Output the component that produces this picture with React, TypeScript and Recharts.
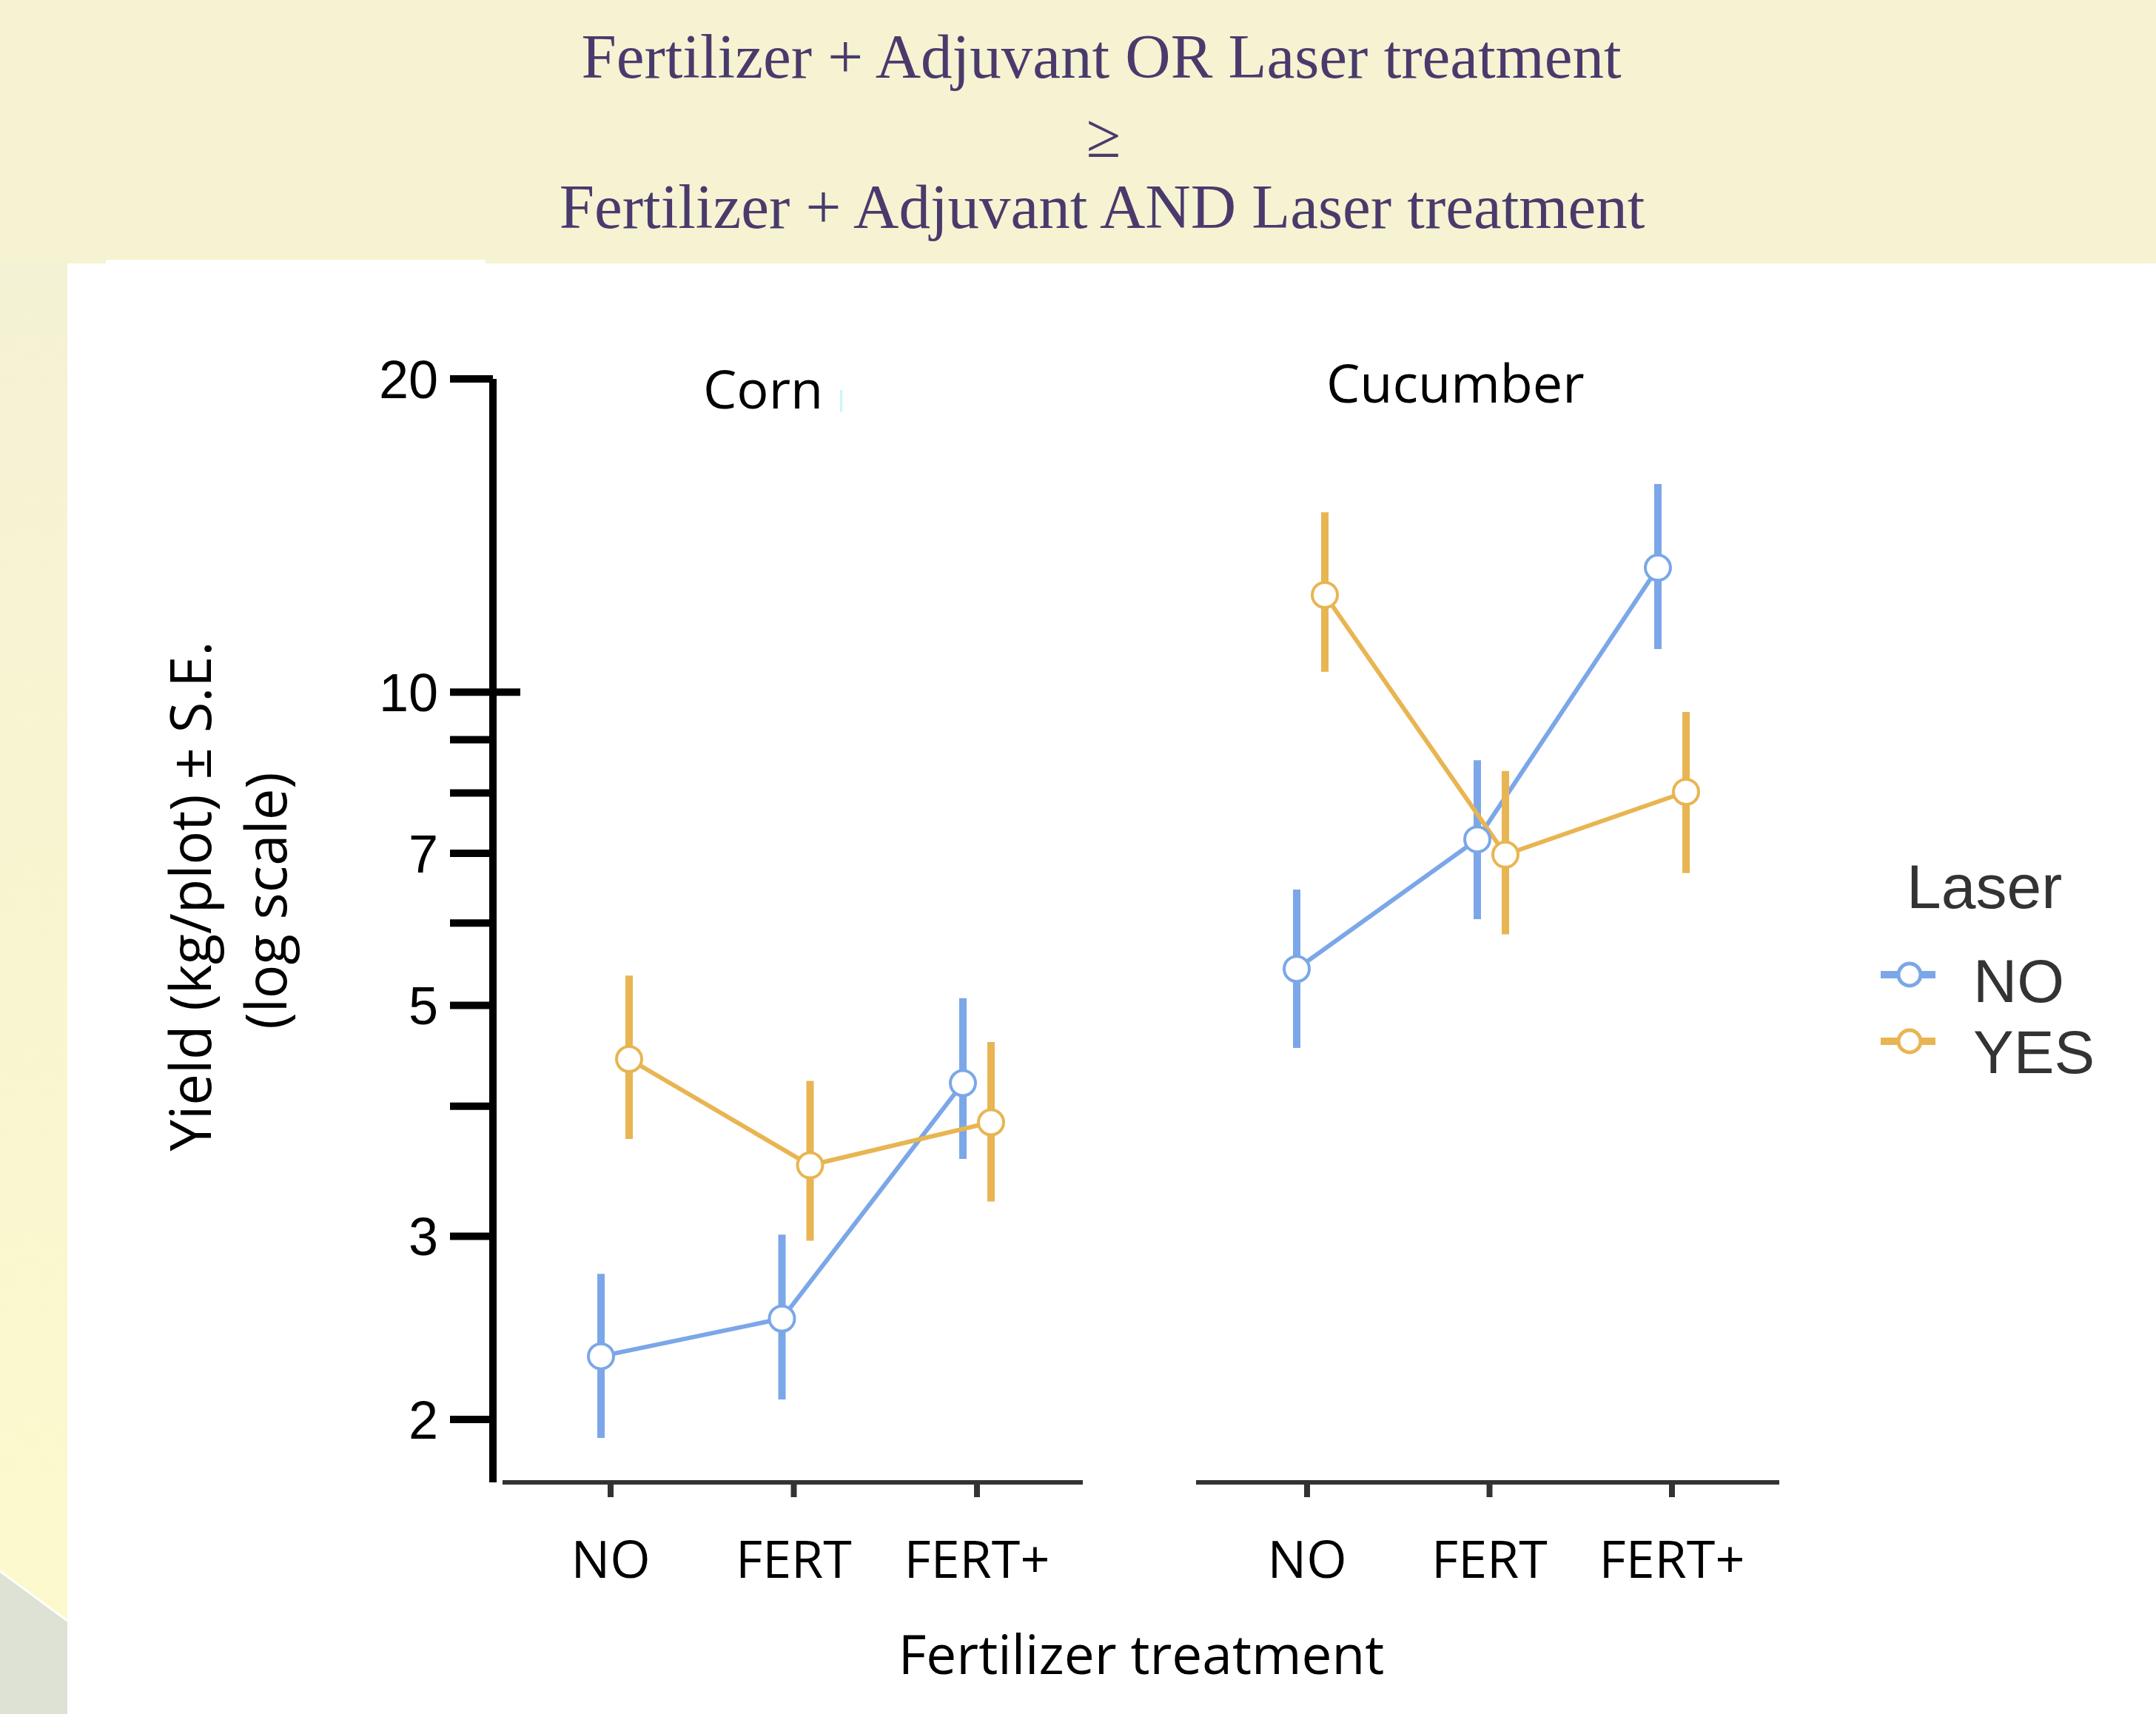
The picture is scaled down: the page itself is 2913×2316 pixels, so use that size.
import { ErrorBar, Legend, Line, LineChart, XAxis, YAxis } from "recharts";

const W = 2913;
const H = 2316;
const BLUE = "#7BA7E8";
const ORANGE = "#E8B552";

// categories
const fertLevels = ["NO", "FERT", "FERT+"];

// Corn, Laser = NO
const cornNoMean = [2.3, 2.5, 4.21];
const cornNoLow = [1.92, 2.09, 3.56];
const cornNoHigh = [2.76, 3.01, 5.08];
// Corn, Laser = YES
const cornYesMean = [4.44, 3.51, 3.86];
const cornYesLow = [3.72, 2.97, 3.24];
const cornYesHigh = [5.34, 4.23, 4.61];

// Cucumber, Laser = NO
const cucNoMean = [5.42, 7.22, 13.17];
const cucNoLow = [4.55, 6.05, 11.0];
const cucNoHigh = [6.46, 8.6, 15.85];
// Cucumber, Laser = YES
const cucYesMean = [12.4, 6.98, 8.02];
const cucYesLow = [10.46, 5.85, 6.7];
const cucYesHigh = [14.89, 8.4, 9.57];

const yTicks = [2, 3, 4, 5, 6, 7, 8, 9, 10, 20];
const yTickLabels = [2, 3, 5, 7, 10, 20];

const Y_TICK_SIZE = 58;
const Y_TICK_MARGIN = 16;

function buildRows(
  noMean: number[],
  noLow: number[],
  noHigh: number[],
  yesMean: number[],
  yesLow: number[],
  yesHigh: number[],
) {
  return fertLevels.map((cat, i) => ({
    cat,
    no: noMean[i],
    noErr: [noMean[i] - noLow[i], noHigh[i] - noMean[i]],
    yes: yesMean[i],
    yesErr: [yesMean[i] - yesLow[i], yesHigh[i] - yesMean[i]],
  }));
}

const cornRows = buildRows(cornNoMean, cornNoLow, cornNoHigh, cornYesMean, cornYesLow, cornYesHigh);
const cucRows = buildRows(cucNoMean, cucNoLow, cucNoHigh, cucYesMean, cucYesLow, cucYesHigh);

function YTick(props: any) {
  const { x, y, payload } = props;
  const v = payload.value;
  const axisX = x + Y_TICK_MARGIN + Y_TICK_SIZE;
  return (
    <g>
      <line
        x1={axisX - Y_TICK_SIZE}
        x2={v === 10 ? axisX + 37 : axisX}
        y1={y}
        y2={y}
        stroke="#000"
        strokeWidth={10}
      />
      {yTickLabels.includes(v) && (
        <text
          x={x}
          y={y}
          dy="0.36em"
          textAnchor="end"
          fill="#000"
          fontSize={72}
          fontFamily="Liberation Sans, Arial, sans-serif"
        >
          {v}
        </text>
      )}
    </g>
  );
}

function LaserLegend(props: any) {
  const items = props.payload ?? [];
  return (
    <svg width={393} height={340} style={{ overflow: "visible" }}>
      <text
        x={56}
        y={87}
        fontSize={84}
        fill="#333"
        fontFamily="Liberation Sans, Arial, sans-serif"
      >
        Laser
      </text>
      {items.map((it: any, i: number) => {
        const sy = 177 + 90 * i;
        return (
          <g key={it.value}>
            <line x1={21} x2={95} y1={sy} y2={sy} stroke={it.color} strokeWidth={10} />
            <circle cx={60} cy={sy} r={15} fill="#fff" stroke={it.color} strokeWidth={5} />
            <text
              x={146}
              y={214 + 96 * i}
              fontSize={82}
              fill="#333"
              fontFamily="Liberation Sans, Arial, sans-serif"
            >
              {it.value}
            </text>
          </g>
        );
      })}
    </svg>
  );
}

type Pad = { left: number; right: number };

function Panel({
  rows,
  left,
  right,
  tickPad,
  noPad,
  yesPad,
  showY,
  gap,
  legend,
}: {
  rows: any[];
  left: number;
  right: number;
  tickPad: Pad;
  noPad: Pad;
  yesPad: Pad;
  showY: boolean;
  gap?: number;
  legend?: boolean;
}) {
  return (
    <div style={{ position: "absolute", left: 0, top: 0 }}>
      <LineChart
        width={W}
        height={H}
        data={rows}
        margin={{ top: 512, right, bottom: 153, left }}
      >
        <XAxis
          xAxisId="tick"
          dataKey="cat"
          height={160}
          padding={tickPad}
          interval={0}
          axisLine={{
            stroke: "#333",
            strokeWidth: 6,
            strokeDasharray: gap ? `0 ${gap} 4000` : undefined,
          }}
          tickLine={{ stroke: "#333", strokeWidth: 8 }}
          tickSize={20}
          tickMargin={59}
          tick={{ fill: "#000", fontSize: 70, fontFamily: "Open Sans" }}
        />
        <XAxis xAxisId="no" dataKey="cat" hide height={0} padding={noPad} />
        <XAxis xAxisId="yes" dataKey="cat" hide height={0} padding={yesPad} />
        <YAxis
          scale="log"
          type="number"
          domain={[1.74, 20]}
          allowDataOverflow
          ticks={yTicks}
          interval={0}
          hide={!showY}
          width={266}
          axisLine={{ stroke: "#000", strokeWidth: 10 }}
          tickLine={false}
          tickSize={Y_TICK_SIZE}
          tickMargin={Y_TICK_MARGIN}
          tick={<YTick />}
        />
        <Line
          xAxisId="no"
          dataKey="no"
          name="NO"
          type="linear"
          stroke={BLUE}
          strokeWidth={6}
          dot={{ r: 17, fill: "#fff", stroke: BLUE, strokeWidth: 4 }}
          activeDot={false}
          isAnimationActive={false}
        >
          <ErrorBar
            dataKey="noErr"
            direction="y"
            width={0}
            stroke={BLUE}
            strokeWidth={10}
            isAnimationActive={false}
          />
        </Line>
        <Line
          xAxisId="yes"
          dataKey="yes"
          name="YES"
          type="linear"
          stroke={ORANGE}
          strokeWidth={6}
          dot={{ r: 17, fill: "#fff", stroke: ORANGE, strokeWidth: 4 }}
          activeDot={false}
          isAnimationActive={false}
        >
          <ErrorBar
            dataKey="yesErr"
            direction="y"
            width={0}
            stroke={ORANGE}
            strokeWidth={10}
            isAnimationActive={false}
          />
        </Line>
        {legend && (
          <Legend
            layout="vertical"
            align="center"
            verticalAlign="middle"
            wrapperStyle={{ left: 2520, top: 1140, width: 393, height: 340 }}
            content={<LaserLegend />}
          />
        )}
      </LineChart>
    </div>
  );
}

export default function App() {
  const serif = "Liberation Serif, Times New Roman, serif";
  const sans = "Open Sans, sans-serif";
  return (
    <div
      style={{
        position: "absolute",
        left: 0,
        top: 0,
        width: W,
        height: H,
        overflow: "hidden",
      }}
    >
      <svg width={W} height={H} style={{ position: "absolute", left: 0, top: 0 }}>
        <defs>
          <linearGradient id="strip" x1="0" y1="0" x2="0" y2="1">
            <stop offset="0" stopColor="#F4F2D4" />
            <stop offset="1" stopColor="#FCFACC" />
          </linearGradient>
        </defs>
        <rect width={W} height={H} fill="#F5F3D2" />
        <rect x={0} y={356} width={91} height={H - 356} fill="url(#strip)" />
        <polygon points="0,2123 91,2190 91,2316 0,2316" fill="#DDE2D4" />
        <line x1={0} y1={2123} x2={91} y2={2190} stroke="#fff" strokeWidth={3} />
        <rect x={91} y={356} width={W - 91} height={H - 356} fill="#fff" />
        <rect x={143} y={351} width={513} height={6} fill="#fff" />

        <g fill="#4A3A6C" fontFamily={serif} fontSize={85} textAnchor="middle">
          <text x={1488} y={105}>Fertilizer + Adjuvant OR Laser treatment</text>
          <text x={1491} y={212}>≥</text>
          <text x={1489} y={308}>Fertilizer + Adjuvant AND Laser treatment</text>
        </g>

        <g fontFamily={sans} fill="#000">
          <text x={950} y={552} fontSize={72}>Corn</text>
          <rect x={1135} y={527} width={3} height={30} fill="#C8F6F6" />
          <text x={1792} y={544} fontSize={72}>Cucumber</text>
          <text x={1542} y={2262} fontSize={73} textAnchor="middle">
            Fertilizer treatment
          </text>
          <g transform="rotate(-90)" textAnchor="middle" fontSize={76}>
            <text x={-1211} y={285}>Yield (kg/plot) ± S.E.</text>
            <text x={-1217} y={387}>(log scale)</text>
          </g>
        </g>
      </svg>

      <Panel
        rows={cornRows}
        left={400}
        right={W - 1463}
        tickPad={{ left: 159, right: 143 }}
        noPad={{ left: 146, right: 162 }}
        yesPad={{ left: 184, right: 124 }}
        showY
        gap={13}
      />
      <Panel
        rows={cucRows}
        left={1616}
        right={W - 2404}
        tickPad={{ left: 150, right: 145 }}
        noPad={{ left: 136, right: 164 }}
        yesPad={{ left: 174, right: 126 }}
        showY={false}
        legend
      />
    </div>
  );
}
